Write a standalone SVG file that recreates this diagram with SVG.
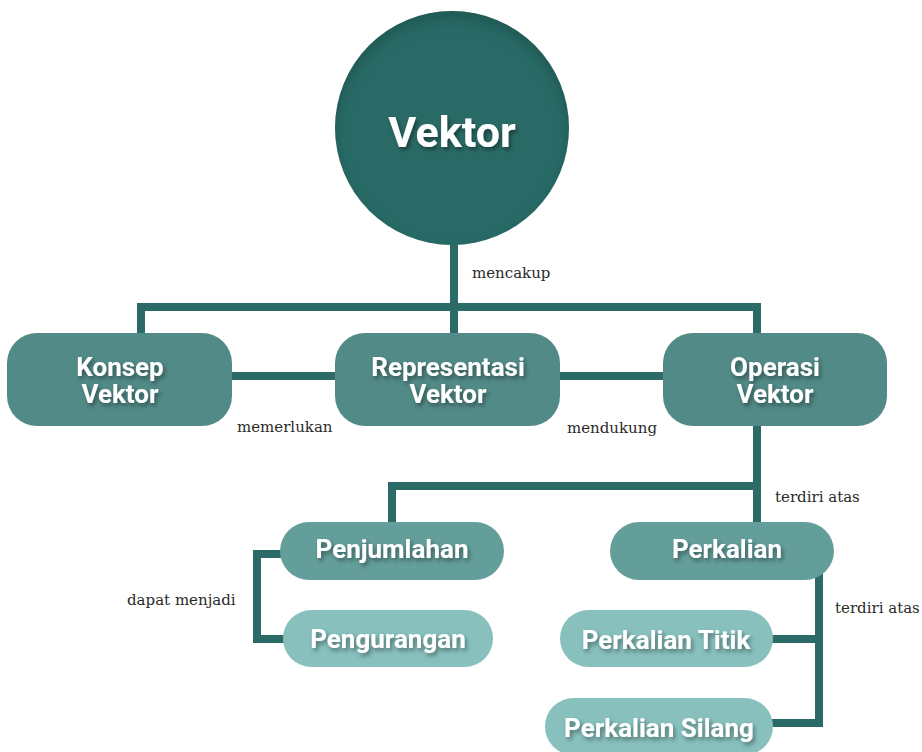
<svg xmlns="http://www.w3.org/2000/svg" width="922" height="752" viewBox="0 0 922 752">
<defs>
<filter id="inset" x="-10%" y="-10%" width="120%" height="120%">
<feFlood flood-color="#000" flood-opacity="0.35"/>
<feComposite in2="SourceAlpha" operator="out"/>
<feGaussianBlur stdDeviation="7"/>
<feOffset dx="0" dy="7"/>
<feComposite in2="SourceAlpha" operator="in" result="sh"/>
<feMerge><feMergeNode in="SourceGraphic"/><feMergeNode in="sh"/></feMerge>
</filter>
<filter id="tshadow" x="-20%" y="-30%" width="140%" height="160%">
<feDropShadow dx="2" dy="3" stdDeviation="2" flood-color="#000" flood-opacity="0.4"/>
</filter>
</defs>
<style>
.conn{fill:none;stroke:#2b6a67;stroke-width:8;stroke-linejoin:miter;stroke-linecap:butt}
.lbl{font-family:"DejaVu Serif","Liberation Serif",serif;font-size:15px;fill:#2a2a2a}
.t{font-family:Roboto,"Liberation Sans",sans-serif;font-weight:bold;fill:#fff;text-anchor:middle;filter:url(#tshadow)}
.t1{font-size:26px}
.l1{fill:#528a87}
.l2{fill:#639e9b}
.l3{fill:#87c0bd}
</style>
<rect width="922" height="752" fill="#fff"/>
<g id="connectors">
<path class="conn" d="M454 240 V333"/>
<path class="conn" d="M141 333 V307 H757 V333"/>
<path class="conn" d="M228 376 H339"/>
<path class="conn" d="M556 376 H667"/>
<path class="conn" d="M757 422 V526"/>
<path class="conn" d="M392 526 V486 H757"/>
<path class="conn" d="M284 554 H257 V639 H287"/>
<path class="conn" d="M819 560 V723 H769"/>
<path class="conn" d="M769 639 H819"/>
<text class="lbl" x="472" y="278">mencakup</text>
<text class="lbl" x="237" y="432">memerlukan</text>
<text class="lbl" x="567" y="433">mendukung</text>
<text class="lbl" x="775" y="502">terdiri atas</text>
<text class="lbl" x="127" y="605">dapat menjadi</text>
<text class="lbl" x="835" y="613">terdiri atas</text>
</g>
<g id="vektor">
<circle cx="452" cy="128" r="117" fill="#2b6a66" filter="url(#inset)"/>
<text class="t" x="452" y="147" font-size="43">Vektor</text>
</g>
<g id="konsep">
<rect class="l1" x="7" y="333" width="225" height="93" rx="30"/>
<text class="t t1" x="120" y="376">Konsep</text>
<text class="t t1" x="120" y="403">Vektor</text>
</g>
<g id="representasi">
<rect class="l1" x="335" y="333" width="225" height="93" rx="30"/>
<text class="t t1" x="448" y="376">Representasi</text>
<text class="t t1" x="448" y="403">Vektor</text>
</g>
<g id="operasi">
<rect class="l1" x="663" y="333" width="224" height="93" rx="30"/>
<text class="t t1" x="775" y="376">Operasi</text>
<text class="t t1" x="775" y="403">Vektor</text>
</g>
<g id="penjumlahan">
<rect class="l2" x="280" y="522" width="224" height="58" rx="29"/>
<text class="t t1" x="392" y="558">Penjumlahan</text>
</g>
<g id="perkalian">
<rect class="l2" x="610" y="522" width="224" height="58" rx="29"/>
<text class="t t1" x="727" y="558">Perkalian</text>
</g>
<g id="pengurangan">
<rect class="l3" x="283" y="610" width="210" height="57" rx="28.5"/>
<text class="t t1" x="388" y="648">Pengurangan</text>
</g>
<g id="perkalian-titik">
<rect class="l3" x="560" y="610" width="213" height="57" rx="28.5"/>
<text class="t t1" x="666" y="649">Perkalian Titik</text>
</g>
<g id="perkalian-silang">
<rect class="l3" x="545" y="698" width="228" height="57" rx="28.5"/>
<text class="t t1" x="659" y="737">Perkalian Silang</text>
</g>
</svg>
